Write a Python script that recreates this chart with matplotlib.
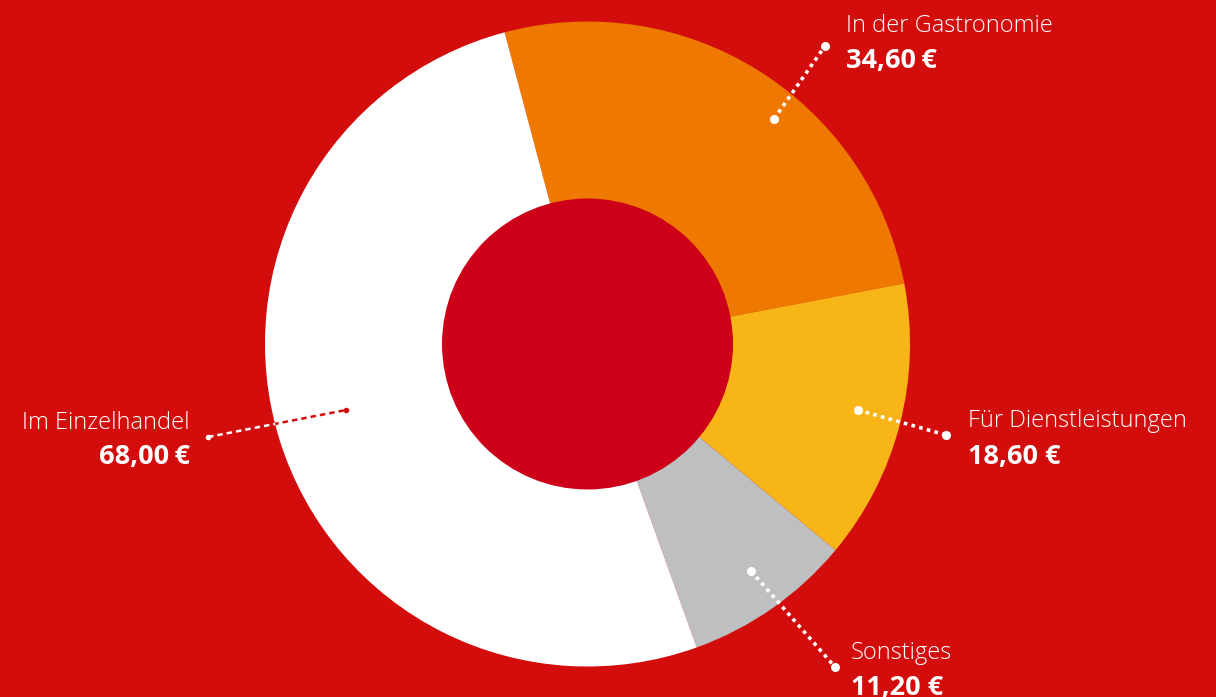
import numpy as np
from matplotlib import pyplot as plt
from matplotlib.patches import Circle

labels = ['In der Gastronomie', 'Für Dienstleistungen', 'Sonstiges', 'Im Einzelhandel']
values = [34.60, 18.60, 11.20, 68.00]
value_texts = ['34,60\u2009€', '18,60 €', '11,20 €', '68,00\u2009€']
colors = ['#EE7800', '#F8B517', '#BEBFC0', '#FFFFFF']

bg = '#D30C0C'
hole = '#CE0019'
H = 697.

def py(y):
    # pixel row -> data y
    return H - y

fig = plt.figure(figsize=(12.16, 6.97), dpi=100, facecolor=bg)
ax = fig.add_axes([0, 0, 1, 1])
ax.set_xlim(0, 1216)
ax.set_ylim(0, H)
ax.set_aspect('equal')
ax.axis('off')

cx, cy, r_out, r_in = 587.5, py(344), 322.5, 145.5
wedges, _ = ax.pie(values, colors=colors, startangle=104.9, counterclock=False,
                   radius=r_out, center=(cx, cy), frame=True,
                   wedgeprops=dict(linewidth=0))
ax.set_xlim(0, 1216)
ax.set_ylim(0, H)
ax.axis('off')
ax.add_patch(Circle((cx, cy), r_in, color=hole, lw=0, zorder=3))

# leader lines: (inner x, inner y, outer x, outer y) in pixels
leaders = [(774, 119, 825, 46), (858, 410, 946, 435), (751, 571, 835, 667)]
for x0, y0, x1, y1 in leaders:
    ax.plot([x0, x1], [py(y0), py(y1)], color='white', lw=2.6, ls=(0, (1.0, 1.2)),
            dash_capstyle='butt', zorder=4)
    ax.plot([x0, x1], [py(y0), py(y1)], 'o', color='white', ms=6.5, mec='none', zorder=5)

# Einzelhandel leader: white on red, red on the white slice
ex = [208, 346]
ey = [py(437), py(410)]
ax.plot(ex, ey, color='white', lw=1.8, ls=(0, (2.2, 1.6)), zorder=4)
red_part, = ax.plot(ex, ey, color=bg, lw=1.8, ls=(0, (2.2, 1.6)), zorder=4)
red_part.set_clip_path(wedges[3])
ax.plot(ex[0], ey[0], 'o', color='white', ms=4, mec='none', zorder=5)
ax.plot(ex[1], ey[1], 'o', color=bg, ms=4, mec='none', zorder=5)

fam = ['Open Sans', 'DejaVu Sans']
lab_fs = 17
val_fs = 19.5
# (x, label baseline, value baseline, alignment)
text_pos = [(846, 32, 68, 'left'), (968, 427, 464, 'left'),
            (851, 659, 695, 'left'), (190, 429, 464, 'right')]
for (x, yl, yv, ha), lab, val in zip(text_pos, labels, value_texts):
    ax.text(x, py(yl), lab, color='white', fontsize=lab_fs, ha=ha, va='baseline',
            family=fam, fontweight='light', zorder=6)
    ax.text(x, py(yv), val, color='white', fontsize=val_fs, ha=ha, va='baseline',
            family=fam, fontweight='bold', zorder=6)

fig.savefig('out.png', dpi=100, facecolor=bg)
